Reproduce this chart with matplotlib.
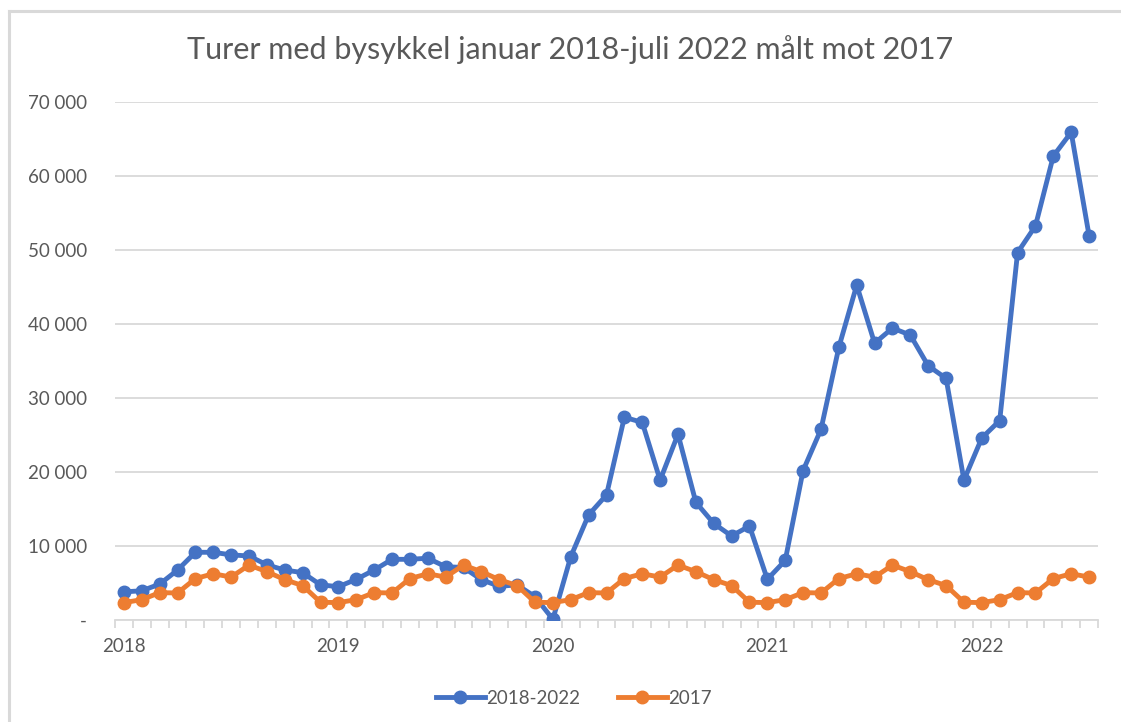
import numpy as np
import matplotlib
matplotlib.use("Agg")
import matplotlib.pyplot as plt
from matplotlib.ticker import FuncFormatter, FixedLocator, MultipleLocator
from matplotlib.lines import Line2D

# monthly trips, Jan 2018 - Jul 2022
trips_2018_2022 = [
    3800, 3950, 4850, 6750, 9150, 9150, 8800, 8650, 7450, 6750, 6400, 4750,
    4500, 5500, 6750, 8200, 8200, 8350, 7200, 7100, 5450, 4550, 4750, 3150,
    100, 8550, 14200, 16900, 27400, 26700, 18900, 25100, 15900, 13050, 11350, 12700,
    5500, 8050, 20200, 25750, 36850, 45250, 37400, 39450, 38500, 34350, 32650, 18900,
    24600, 26950, 49650, 53250, 62700, 65900, 51950,
]
# same month in 2017, repeated for comparison
trips_2017 = [
    2350, 2750, 3700, 3650, 5600, 6250, 5800, 7420, 6530, 5450, 4650, 2400,
    2350, 2750, 3700, 3650, 5600, 6250, 5800, 7420, 6530, 5450, 4650, 2400,
    2350, 2750, 3700, 3650, 5600, 6250, 5800, 7420, 6530, 5450, 4650, 2400,
    2350, 2750, 3700, 3650, 5600, 6250, 5800, 7420, 6530, 5450, 4650, 2400,
    2350, 2750, 3700, 3650, 5600, 6250, 5800,
]
year_labels = ["2018", "2019", "2020", "2021", "2022"]
series_names = ["2018-2022", "2017"]

BLUE = "#4472C4"
ORANGE = "#ED7D31"
GRID = "#D9D9D9"
TEXT = "#595959"
FONT = "Lato"
LW, MS = 3.5, 9

W, H = 1121, 722
fig = plt.figure(figsize=(W / 100, H / 100), dpi=100)
ax = fig.add_axes([115 / W, 1 - 620 / H, (1098 - 115) / W, (620 - 102) / H])

months = np.arange(len(trips_2018_2022))
ax.plot(months, trips_2018_2022, color=BLUE, lw=LW, marker="o", ms=MS,
        solid_joinstyle="round", zorder=3)
ax.plot(months, trips_2017, color=ORANGE, lw=LW, marker="o", ms=MS,
        solid_joinstyle="round", zorder=3)

ax.set_xlim(-0.5, len(months) - 0.5)
ax.set_ylim(0, 70000)

ax.yaxis.set_major_locator(MultipleLocator(10000))
ax.yaxis.set_major_formatter(FuncFormatter(
    lambda v, p: "-" if v == 0 else f"{int(v):,}".replace(",", " ")))
ax.grid(axis="y", color=GRID, lw=1.3, zorder=0)
ax.set_axisbelow(True)

ax.xaxis.set_major_locator(FixedLocator(np.arange(0, len(months), 12)))
ax.set_xticklabels(year_labels)
ax.xaxis.set_minor_locator(FixedLocator(np.arange(-0.5, len(months), 1)))
ax.tick_params(axis="x", which="major", length=0, pad=13,
               labelsize=13.5, labelcolor=TEXT)
ax.tick_params(axis="x", which="minor", length=6, width=1.3, color=GRID)
ax.tick_params(axis="y", length=0, pad=20, labelsize=13.5, labelcolor=TEXT)
for lab in ax.get_xticklabels() + ax.get_yticklabels():
    lab.set_fontfamily(FONT)

for s in ["top", "right", "left"]:
    ax.spines[s].set_visible(False)
ax.spines["bottom"].set_color(GRID)
ax.spines["bottom"].set_linewidth(1.3)

fig.text(570 / W, 1 - 50 / H, "Turer med bysykkel januar 2018-juli 2022 målt mot 2017",
         ha="center", va="center", fontsize=22, color=TEXT, family=FONT)

handles = [Line2D([], [], color=BLUE, lw=LW, marker="o", ms=MS),
           Line2D([], [], color=ORANGE, lw=LW, marker="o", ms=MS)]
fig.legend(handles, series_names, loc="center", bbox_to_anchor=(574 / W, 1 - 698 / H),
           ncol=2, frameon=False, handlelength=2.6, columnspacing=2.0,
           handletextpad=0.1, prop={"family": FONT, "size": 13.5}, labelcolor=TEXT)

# chart area border (top and left edges visible)
fig.add_artist(Line2D([9 / W, 9 / W], [0, 1 - 11 / H], color=GRID, lw=2.2,
                      transform=fig.transFigure))
fig.add_artist(Line2D([9 / W, 1], [1 - 11 / H, 1 - 11 / H], color=GRID, lw=2.2,
                      transform=fig.transFigure))

fig.savefig("out.png", dpi=100)
